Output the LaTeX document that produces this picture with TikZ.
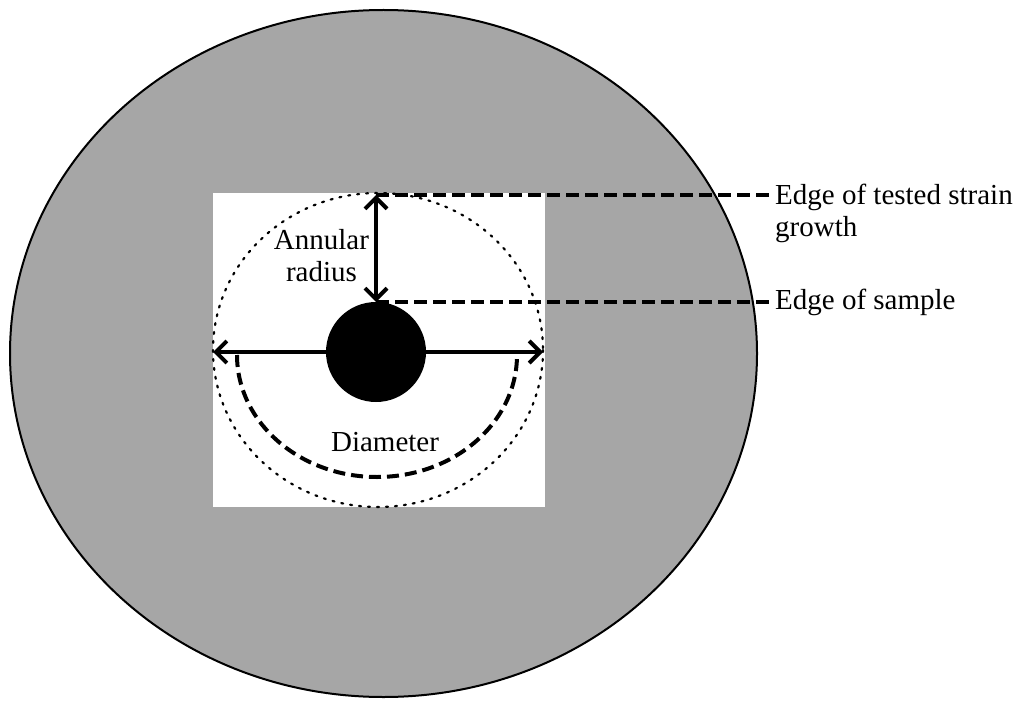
\documentclass[tikz,border=0pt]{standalone}
\usepackage{fontspec}
\setmainfont{Liberation Serif}
\usetikzlibrary{arrows.meta}
\definecolor{plate}{HTML}{A6A6A6}
\tikzset{
  lbl/.style={font=\fontsize{29}{32}\selectfont, inner sep=0pt},
  leader/.style={line width=4pt, dash pattern=on 13pt off 6pt},
  dimarrow/.style={line width=4pt, {Straight Barb[length=11pt,width=22pt]}-{Straight Barb[length=11pt,width=22pt]}},
}
\begin{document}
\begin{tikzpicture}[x=1pt,y=-1pt]
\useasboundingbox (0,0) rectangle (1024,703);
% plate
\draw[fill=plate, line width=2pt] (383.5,353.5) ellipse [x radius=373.5, y radius=343.5];
% white window
\fill[white] (213,193) rectangle (545,507);
% dotted annulus
\draw[line width=2.2pt, dash pattern=on 2pt off 7pt, line cap=round] (378,350) ellipse [x radius=165, y radius=157];
% coordinates
\coordinate (topA) at (376,195);
\coordinate (botA) at (376,302);
\coordinate (dl) at (213,352);
\coordinate (dr) at (543,352);
% labels on the right
\node[lbl, anchor=north west, align=left] (edge1) at (775,184) {Edge of tested strain\\growth};
\coordinate (e1) at (770,195);
\node[lbl, anchor=west] (edge2) at (775,302) {Edge of sample};
\coordinate (e2) at (770,302);
% leader lines
\draw[leader] (topA) -- (e1);
\draw[leader] (botA) -- (e2);
% diameter arrow
\draw[dimarrow] (dl) -- (dr);
% radius arrow
\draw[dimarrow] (topA) -- (botA);
% sample
\node[circle, fill=black, minimum size=100pt, inner sep=0pt] (sample) at (376,352) {};
% dashed half ring
\draw[line width=4pt, dash pattern=on 12pt off 6pt] (237,355) arc[start angle=180, end angle=0, x radius=140, y radius=122];
% inner labels
\node[lbl, align=center, anchor=north] (annular) at (321.5,229) {Annular\\radius};
\node[lbl, anchor=base] (diam) at (385,451.7) {Diameter};
\end{tikzpicture}
\end{document}
